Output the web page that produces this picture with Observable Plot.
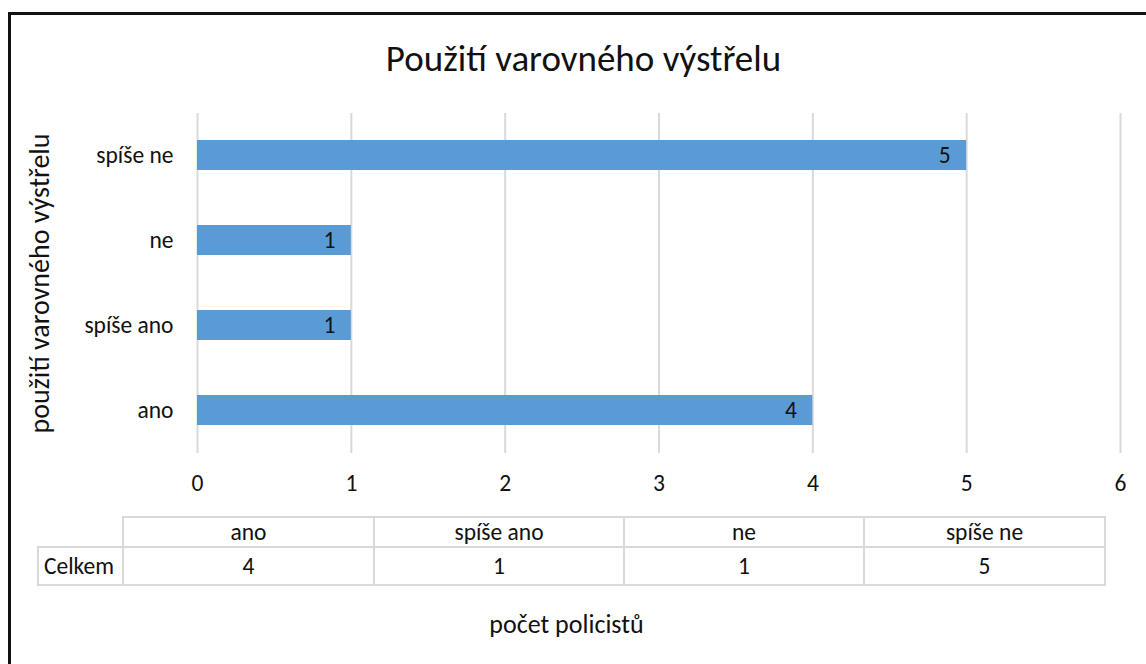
<!DOCTYPE html>
<html>
<head>
<meta charset="utf-8">
<script src="https://cdn.jsdelivr.net/npm/d3@7"></script>
<script src="https://cdn.jsdelivr.net/npm/@observablehq/plot@0.6"></script>
<style>
  html, body { margin: 0; padding: 0; background: #fff; }
  body { width: 1146px; height: 664px; position: relative; overflow: hidden;
         font-family: Calibri, Carlito, Lato, "Open Sans", sans-serif; color: #111; }
  #frame { position: absolute; left: 8px; top: 12px; width: 1200px; height: 700px;
           border: 3px solid #111; box-sizing: border-box; }
  #title { position: absolute; left: 0; top: 40px; width: 1167px; text-align: center;
           font-size: 37px; line-height: 37px; white-space: nowrap; }
  #chart { position: absolute; left: 0; top: 0; }
  .cell { position: absolute; box-sizing: border-box; border: 2px solid #d9d9d9;
          display: flex; align-items: center; justify-content: center; font-size: 23.5px; }
  .cell.lab { justify-content: flex-start; padding-left: 5px; }
  #xtitle { position: absolute; left: 0; top: 611px; width: 1133px; text-align: center;
            font-size: 26px; line-height: 26px; white-space: nowrap; }
</style>
</head>
<body>
<div id="frame"></div>
<div id="title"></div>
<div id="chart"></div>
<div id="table"></div>
<div id="xtitle"></div>
<script>
// ---- data ----
const categories = ["ano", "spíše ano", "ne", "spíše ne"];
const values = [4, 1, 1, 5];
const xTicks = [0, 1, 2, 3, 4, 5, 6];
const chartTitle = "Použití varovného výstřelu";
const yTitle = "použití varovného výstřelu";
const xTitle = "počet policistů";
const rowLabel = "Celkem";

const FONT = 'Calibri, Carlito, Lato, "Open Sans", sans-serif';
const data = categories.map((c, i) => ({cat: c, value: values[i]}));

document.getElementById("title").textContent = chartTitle;
document.getElementById("xtitle").textContent = xTitle;

const chart = Plot.plot({
  width: 1146,
  height: 500,
  marginLeft: 197,
  marginRight: 26,
  marginTop: 113,
  marginBottom: 47,
  style: {fontFamily: FONT, fontSize: "23.5px", color: "#111", background: "transparent", overflow: "visible"},
  x: {domain: [0, 6], ticks: xTicks, tickFormat: d => String(d), tickSize: 0, tickPadding: 21, label: null},
  y: {domain: [...categories].reverse(), paddingInner: 0.647, paddingOuter: 0.3235, tickSize: 0, tickPadding: 24, label: null},
  marks: [
    Plot.gridX(xTicks, {stroke: "#d9d9d9", strokeOpacity: 1, strokeWidth: 2}),
    Plot.barX(data, {x: "value", y: "cat", fill: "#5b9bd5"}),
    Plot.text(data, {x: "value", y: "cat", text: d => String(d.value), textAnchor: "end", dx: -16, fill: "#111", fontSize: 23.5}),
    Plot.text([yTitle], {frameAnchor: "left", textAnchor: "middle", dx: -157, rotate: -90, fontSize: 28, fill: "#111"})
  ]
});
document.getElementById("chart").appendChild(chart);

// ---- data table under the chart ----
const colEdges = [123, 374, 624, 864, 1105];
const labelLeft = 38;
const rowEdges = [517, 547, 585];
const table = document.getElementById("table");
function cell(x0, x1, y0, y1, text, cls) {
  const d = document.createElement("div");
  d.className = "cell" + (cls ? " " + cls : "");
  d.style.left = (x0 - 1) + "px";
  d.style.top = (y0 - 1) + "px";
  d.style.width = (x1 - x0 + 2) + "px";
  d.style.height = (y1 - y0 + 2) + "px";
  d.textContent = text;
  table.appendChild(d);
}
categories.forEach((c, i) => {
  cell(colEdges[i], colEdges[i + 1], rowEdges[0], rowEdges[1], c);
  cell(colEdges[i], colEdges[i + 1], rowEdges[1], rowEdges[2], String(values[i]));
});
cell(labelLeft, colEdges[0], rowEdges[1], rowEdges[2], rowLabel, "lab");
</script>
</body>
</html>
